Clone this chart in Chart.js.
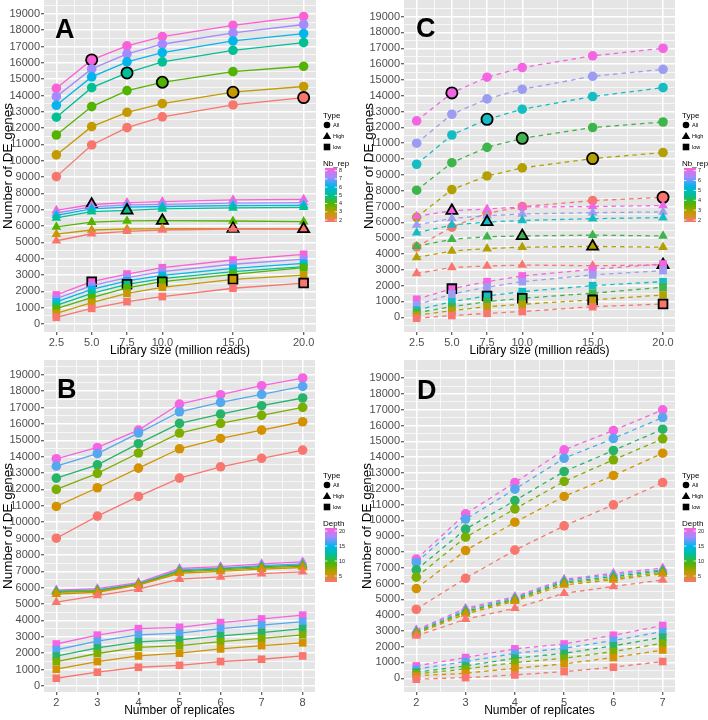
<!DOCTYPE html>
<html>
<head>
<meta charset="utf-8">
<script src="https://cdn.jsdelivr.net/npm/chart.js@4.4.0/dist/chart.umd.min.js"></script>
<style>
body { margin: 0; background: #fff; }
#fig { position: relative; width: 708px; height: 720px; }
canvas { position: absolute; }
</style>
</head>
<body>
<div id="fig">
  <canvas id="pA" width="354" height="360" style="left:0;top:0"></canvas>
  <canvas id="pC" width="354" height="360" style="left:354px;top:0"></canvas>
  <canvas id="pB" width="354" height="360" style="left:0;top:360px"></canvas>
  <canvas id="pD" width="354" height="360" style="left:354px;top:360px"></canvas>
</div>
<script>
// x values / categories
const libSize = [2.5, 5, 7.5, 10, 15, 20];
const repsB = [2, 3, 4, 5, 6, 7, 8];
const repsD = [2, 3, 4, 5, 6, 7];
const nbRepA = [2, 3, 4, 5, 6, 7, 8];
const nbRepC = [2, 3, 4, 5, 6, 7];
const depths = [2.5, 5, 7.5, 10, 15, 20];
const typeLabels = ['All', 'High', 'low'];

// tick labels
const yTicks = [0, 1000, 2000, 3000, 4000, 5000, 6000, 7000, 8000, 9000, 10000,
  11000, 12000, 13000, 14000, 15000, 16000, 17000, 18000, 19000];
const libTicks = [2.5, 5, 7.5, 10, 15, 20];
const repTicksB = [2, 3, 4, 5, 6, 7, 8];
const repTicksD = [2, 3, 4, 5, 6, 7];
const legendA = [8, 7, 6, 5, 4, 3, 2];
const legendC = [7, 6, 5, 4, 3, 2];
const legendDepth = [20, 15, 10, 5];

// Panel A: rows Nb_rep 2..8, columns library size
const aAll = [
  [9030, 10970, 12030, 12690, 13420, 13870],
  [10360, 12090, 12970, 13500, 14200, 14550],
  [11580, 13320, 14300, 14810, 15460, 15790],
  [12670, 14480, 15380, 16060, 16770, 17240],
  [13400, 15140, 16060, 16630, 17340, 17790],
  [13930, 15630, 16550, 17140, 17830, 18350],
  [14440, 16180, 17040, 17610, 18300, 18840]
];
const aHigh = [
  [5100, 5530, 5680, 5760, 5820, 5820],
  [5500, 5760, 5820, 5840, 5840, 5820],
  [5950, 6240, 6320, 6330, 6310, 6270],
  [6500, 6880, 6960, 7050, 7110, 7150],
  [6660, 7050, 7160, 7200, 7250, 7270],
  [6800, 7180, 7300, 7330, 7400, 7440],
  [6960, 7320, 7440, 7500, 7600, 7640]
];
const aLow = [
  [410, 960, 1370, 1680, 2190, 2510],
  [650, 1310, 1880, 2250, 2740, 3000],
  [940, 1610, 2210, 2590, 3040, 3450],
  [1140, 1880, 2430, 2780, 3210, 3520],
  [1350, 2120, 2640, 2980, 3410, 3720],
  [1550, 2350, 2840, 3210, 3660, 3980],
  [1780, 2590, 3060, 3450, 3920, 4270]
];
// outlined point (library size) for each Nb_rep, null = none
const aMarked = [20, 15, 10, 7.5, null, null, 5];

// Panel B: rows depth 2.5..20, columns replicates 2..8
const bAll = [
  [9020, 10370, 11570, 12690, 13380, 13900, 14400],
  [10960, 12100, 13300, 14480, 15110, 15620, 16130],
  [12000, 12980, 14220, 15440, 16030, 16520, 17010],
  [12690, 13500, 14790, 16030, 16600, 17110, 17580],
  [13420, 14180, 15440, 16740, 17310, 17800, 18290],
  [13870, 14560, 15620, 17210, 17780, 18330, 18800]
];
const bHigh = [
  [5120, 5520, 5910, 6520, 6660, 6860, 6970],
  [5600, 5720, 6150, 6880, 6990, 7130, 7230],
  [5720, 5780, 6190, 6970, 7090, 7210, 7310],
  [5760, 5820, 6210, 7030, 7150, 7290, 7370],
  [5800, 5870, 6250, 7090, 7190, 7350, 7450],
  [5850, 5940, 6310, 7170, 7290, 7450, 7570]
];
const bLow = [
  [470, 840, 1140, 1260, 1490, 1630, 1830],
  [1020, 1490, 1830, 2000, 2260, 2460, 2630],
  [1490, 1980, 2360, 2460, 2710, 2910, 3120],
  [1820, 2320, 2690, 2810, 3060, 3260, 3500],
  [2210, 2730, 3120, 3220, 3500, 3710, 3930],
  [2560, 3100, 3500, 3580, 3870, 4090, 4320]
];

// Panel C: rows Nb_rep 2..7, columns library size
const cAll = [
  [4450, 5700, 6570, 6990, 7370, 7580],
  [6320, 8070, 8930, 9440, 10030, 10410],
  [8030, 9770, 10740, 11310, 11990, 12340],
  [9670, 11520, 12510, 13150, 13950, 14510],
  [11000, 12830, 13800, 14410, 15230, 15670],
  [12410, 14180, 15170, 15780, 16520, 17000]
];
const cHigh = [
  [2770, 3150, 3240, 3300, 3260, 3310],
  [3780, 4190, 4340, 4430, 4480, 4430],
  [4490, 4930, 5090, 5140, 5190, 5140],
  [5340, 5830, 6020, 6120, 6230, 6300],
  [5830, 6250, 6420, 6530, 6610, 6660],
  [6380, 6740, 6840, 6970, 7000, 7060]
];
const cLow = [
  [-60, 110, 250, 360, 670, 840],
  [130, 420, 670, 820, 1100, 1410],
  [290, 670, 990, 1200, 1520, 1900],
  [460, 990, 1350, 1620, 2000, 2250],
  [780, 1470, 1900, 2250, 2680, 2950],
  [1140, 1810, 2250, 2610, 3030, 3370]
];
const cMarked = [20, 15, 10, 7.5, null, 5];

// Panel D: rows depth 2.5..20, columns replicates 2..7
const dAll = [
  [4370, 6330, 8110, 9650, 10980, 12390],
  [5680, 8090, 9880, 11510, 12840, 14250],
  [6400, 8930, 10720, 12460, 13830, 15160],
  [6860, 9440, 11250, 13090, 14420, 15770],
  [7330, 10070, 11970, 13930, 15180, 16510],
  [7540, 10410, 12390, 14460, 15690, 16990]
];
const dHigh = [
  [2680, 3740, 4430, 5380, 5810, 6230],
  [2810, 4070, 4880, 5910, 6230, 6610],
  [2870, 4180, 4960, 6020, 6330, 6710],
  [2910, 4240, 5020, 6100, 6440, 6800],
  [2980, 4330, 5090, 6190, 6550, 6860],
  [3060, 4430, 5170, 6270, 6650, 6970]
];
const dLow = [
  [-60, 40, 210, 420, 700, 1060],
  [150, 320, 630, 910, 1310, 1790],
  [270, 590, 990, 1270, 1690, 2220],
  [380, 780, 1270, 1580, 2050, 2600],
  [570, 1060, 1580, 1900, 2390, 2960],
  [780, 1310, 1860, 2170, 2720, 3340]
];

// colours
const colA = ['#F8766D', '#C49A00', '#53B400', '#00C094', '#00B6EB', '#A58AFF', '#FB61D7'];
const colC = ['#F8766D', '#B39F00', '#3DB54A', '#14BDC2', '#9E9CF2', '#F564E3'];
const colDepth = ['#F8766D', '#D39200', '#7CAE00', '#25B46A', '#55A8F0', '#F564E3'];
const barCols = ['#F8766D', '#C49A00', '#53B400', '#00C094', '#00B6EB', '#A58AFF', '#FB61D7'];

Chart.defaults.font.family = '"Liberation Sans", Arial, sans-serif';
Chart.defaults.animation = false;

const near = (a, b) => Math.abs(a - b) < 1e-6;
const isMaj = (list, v) => list.some(m => near(m, v));

function withMinor(major, lo, hi) {
  const out = major.slice();
  for (let i = 0; i < major.length - 1; i++) out.push((major[i] + major[i + 1]) / 2);
  const step = major[1] - major[0];
  out.push(major[0] - step / 2, major[major.length - 1] + step / 2);
  return out.filter(v => v >= lo && v <= hi).sort((a, b) => a - b);
}

function series(xs, rows, colors, shape, r, marked, dashed) {
  return rows.map((row, i) => {
    const hit = ctx => marked && marked[i] !== null && near(marked[i], xs[ctx.dataIndex]);
    return {
      data: row.map((y, j) => ({x: xs[j], y: y})),
      borderColor: colors[i],
      backgroundColor: colors[i],
      borderWidth: 1.3,
      borderDash: dashed ? [4.5, 4] : [],
      pointStyle: shape,
      pointRadius: ctx => hit(ctx) ? r + 0.8 : r,
      pointBorderColor: ctx => hit(ctx) ? '#000' : colors[i],
      pointBorderWidth: ctx => hit(ctx) ? 1.8 : 0,
      pointHoverRadius: r,
      tension: 0
    };
  });
}

function drawLegend(ctx, L) {
  ctx.save();
  ctx.fillStyle = '#000';
  ctx.textAlign = 'left';
  ctx.textBaseline = 'alphabetic';
  ctx.font = '8px "Liberation Sans", Arial';
  ctx.fillText('Type', L.x, 118);
  const sx = L.x + 4, tx = L.x + 10;
  const ys = [125, 136, 147];
  ctx.beginPath(); ctx.arc(sx, ys[0], 3.3, 0, Math.PI * 2); ctx.fill();
  ctx.beginPath(); ctx.moveTo(sx, ys[1] - 4); ctx.lineTo(sx + 4.2, ys[1] + 3); ctx.lineTo(sx - 4.2, ys[1] + 3); ctx.closePath(); ctx.fill();
  ctx.fillRect(sx - 3.3, ys[2] - 3.3, 6.6, 6.6);
  ctx.font = '5.5px "Liberation Sans", Arial';
  ctx.textBaseline = 'middle';
  typeLabels.forEach((t, i) => ctx.fillText(t, tx, ys[i]));

  ctx.textBaseline = 'alphabetic';
  ctx.font = '8px "Liberation Sans", Arial';
  ctx.fillText(L.title, L.x, 166);
  const top = 168, bot = 222, bx = L.x + 2, bw = 12;
  const g = ctx.createLinearGradient(0, bot, 0, top);
  barCols.forEach((c, i) => g.addColorStop(i / (barCols.length - 1), c));
  ctx.fillStyle = g;
  ctx.fillRect(bx, top, bw, bot - top);
  const vTop = L.labels[0], vBot = L.span;
  const pos = v => L.yTop + (vTop - v) / (vTop - vBot) * (L.yBot - L.yTop);
  ctx.strokeStyle = '#fff';
  ctx.lineWidth = 0.8;
  ctx.fillStyle = '#1a1a1a';
  ctx.font = '5.5px "Liberation Sans", Arial';
  ctx.textBaseline = 'middle';
  L.labels.forEach(v => {
    const y = pos(v);
    ctx.beginPath();
    ctx.moveTo(bx, y); ctx.lineTo(bx + 2.4, y);
    ctx.moveTo(bx + bw - 2.4, y); ctx.lineTo(bx + bw, y);
    ctx.stroke();
    ctx.fillText(String(v), bx + bw + 2, y);
  });
  ctx.restore();
}

function panel(id, p) {
  const xAll = withMinor(p.xTicks, p.xMin, p.xMax);
  const yAll = withMinor(yTicks, p.yMin, p.yMax);
  const datasets = [].concat(
    series(p.x, p.low, p.colors, 'rect', 5.4, p.marked, p.dashed),
    series(p.x, p.high, p.colors, 'triangle', 5.6, p.marked, p.dashed),
    series(p.x, p.all, p.colors, 'circle', 4.8, p.marked, p.dashed)
  );
  const decor = {
    id: 'decor' + id,
    beforeDraw(chart) {
      const {ctx, chartArea: a} = chart;
      ctx.save();
      ctx.fillStyle = '#E5E5E5';
      ctx.fillRect(a.left, a.top, a.right - a.left, a.bottom - a.top);
      ctx.restore();
    },
    afterDraw(chart) {
      const ctx = chart.ctx;
      ctx.save();
      ctx.fillStyle = '#000';
      ctx.font = 'bold 27px "Liberation Sans", Arial';
      ctx.textBaseline = 'alphabetic';
      ctx.fillText(p.letter, p.letterX, p.letterY);
      ctx.restore();
      drawLegend(ctx, p.legend);
    }
  };
  new Chart(document.getElementById(id), {
    type: 'line',
    data: {datasets: datasets},
    options: {
      responsive: false,
      devicePixelRatio: 1,
      layout: {autoPadding: false, padding: {left: 0, top: 0, right: p.padRight, bottom: 0}},
      plugins: {legend: {display: false}, tooltip: {enabled: false}},
      scales: {
        x: {
          type: 'linear',
          min: p.xMin, max: p.xMax,
          afterBuildTicks: s => { s.ticks = xAll.map(v => ({value: v})); },
          afterFit: s => { s.height = 28; s.paddingLeft = 0; s.paddingRight = 0; },
          border: {display: false},
          grid: {
            color: '#fff',
            lineWidth: c => isMaj(p.xTicks, c.tick.value) ? 1.5 : 0.7,
            tickLength: 3,
            tickWidth: 1,
            tickColor: c => isMaj(p.xTicks, c.tick.value) ? '#333' : 'rgba(0,0,0,0)'
          },
          ticks: {
            autoSkip: false, maxRotation: 0, padding: 1,
            color: '#4D4D4D', font: {size: 11},
            callback: v => isMaj(p.xTicks, v) ? p.xFmt(v) : ''
          },
          title: {display: true, text: p.xTitle, color: '#000', font: {size: 12}, padding: {top: 0, bottom: 2}}
        },
        y: {
          type: 'linear',
          min: p.yMin, max: p.yMax,
          afterBuildTicks: s => { s.ticks = yAll.map(v => ({value: v})); },
          afterFit: s => { s.width = p.yW; s.paddingTop = 0; s.paddingBottom = 0; },
          border: {display: false},
          grid: {
            color: '#fff',
            lineWidth: c => isMaj(yTicks, c.tick.value) ? 1.5 : 0.7,
            tickLength: 3,
            tickWidth: 1,
            tickColor: c => isMaj(yTicks, c.tick.value) ? '#333' : 'rgba(0,0,0,0)'
          },
          ticks: {
            autoSkip: false, padding: 1,
            color: '#4D4D4D', font: {size: 11},
            callback: v => isMaj(yTicks, v) ? String(v) : ''
          },
          title: {display: true, text: 'Number of DE genes', color: '#000', font: {size: 13.5}, padding: {top: p.yTitlePad, bottom: 0}}
        }
      }
    },
    plugins: [decor]
  });
}

panel('pA', {
  x: libSize, xTicks: libTicks, xMin: 1.625, xMax: 20.875, xFmt: v => v.toFixed(1),
  yMin: -490, yMax: 19850, yW: 44, padRight: 38, yTitlePad: 0,
  xTitle: 'Library size (million reads)',
  all: aAll, high: aHigh, low: aLow, colors: colA, marked: aMarked, dashed: false,
  letter: 'A', letterX: 55, letterY: 38,
  legend: {x: 323, title: 'Nb_rep', labels: legendA, span: 2, yTop: 170.7, yBot: 220}
});
panel('pC', {
  x: libSize, xTicks: libTicks, xMin: 1.6, xMax: 20.85, xFmt: v => v.toFixed(1),
  yMin: -930, yMax: 20050, yW: 50, padRight: 33, yTitlePad: 7,
  xTitle: 'Library size (million reads)',
  all: cAll, high: cHigh, low: cLow, colors: colC, marked: cMarked, dashed: true,
  letter: 'C', letterX: 62, letterY: 37,
  legend: {x: 328, title: 'Nb_rep', labels: legendC, span: 2, yTop: 170.7, yBot: 220}
});
panel('pB', {
  x: repsB, xTicks: repTicksB, xMin: 1.7, xMax: 8.3, xFmt: v => String(v),
  yMin: -370, yMax: 19900, yW: 44, padRight: 39, yTitlePad: 0,
  xTitle: 'Number of replicates',
  all: bAll, high: bHigh, low: bLow, colors: colDepth, marked: null, dashed: false,
  letter: 'B', letterX: 57, letterY: 38,
  legend: {x: 323, title: 'Depth', labels: legendDepth, span: 5, yTop: 171, yBot: 216}
});
panel('pD', {
  x: repsD, xTicks: repTicksD, xMin: 1.75, xMax: 7.25, xFmt: v => String(v),
  yMin: -870, yMax: 20150, yW: 50, padRight: 33, yTitlePad: 5,
  xTitle: 'Number of replicates',
  all: dAll, high: dHigh, low: dLow, colors: colDepth, marked: null, dashed: true,
  letter: 'D', letterX: 63, letterY: 39,
  legend: {x: 328, title: 'Depth', labels: legendDepth, span: 5, yTop: 171, yBot: 216}
});
</script>
</body>
</html>
